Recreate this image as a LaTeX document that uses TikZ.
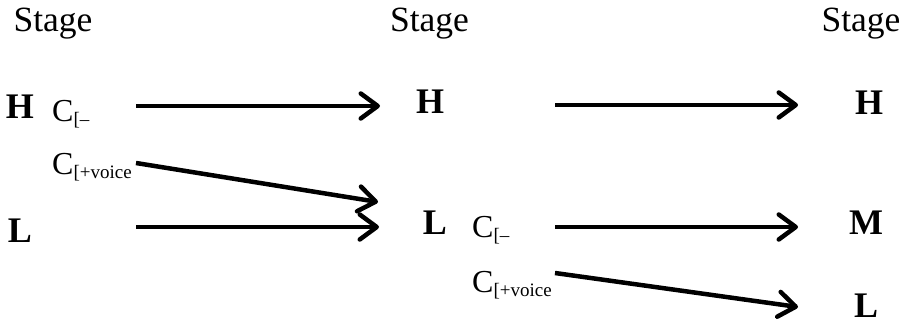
\documentclass[tikz,border=0pt]{standalone}
\usepackage{fontspec}
\setmainfont{Liberation Serif}
\usepackage{tikz}
\usetikzlibrary{calc}
\usetikzlibrary{arrows.meta}
\newcommand{\csub}[1]{C\raisebox{-4pt}{\fontsize{19}{21}\selectfont #1}}

\begin{document}
\begin{tikzpicture}[x=1pt, y=-1pt,
  stagelabel/.style={anchor=base, inner sep=0pt, font=\fontsize{35.5}{38}\selectfont},
  tone/.style={anchor=base, inner sep=0pt, font=\fontsize{36}{38}\selectfont\bfseries},
  cons/.style={anchor=base west, inner sep=0pt, font=\fontsize{32}{34}\selectfont},
  arr/.style={line width=4.5pt, -{Straight Barb[length=17pt, width=25pt, round]}}]
\useasboundingbox (0,0) rectangle (903,323);
\node[stagelabel] (s1) at (53,32) {Stage};
\node[stagelabel] (s2) at (429.5,32) {Stage};
\node[stagelabel] (s3) at (861,32) {Stage};
\node[tone] (h1) at (20,119) {H};
\node[tone] (l1) at (20,243) {L};
\node[tone] (h2) at (430,114) {H};
\node[tone] (l2) at (435,235) {L};
\node[tone] (h3) at (869,115) {H};
\node[tone] (m3) at (866,235) {M};
\node[tone] (l3) at (866,317) {L};
\node[cons] (c1) at (52,122) {\csub{[–}};
\node[cons] (c2) at (52,175) {\csub{[+voice}};
\node[cons] (c3) at (472,238) {\csub{[–}};
\node[cons] (c4) at (472,293) {\csub{[+voice}};
\draw[arr] ($(h1.base)+(116,-13)$) -- ($(h2.base)+(-50,-8)$);
\draw[arr] ($(c2.base west)+(84,-12)$) -- ($(l2.base)+(-57,-33)$);
\draw[arr] ($(l1.base)+(116,-16)$) -- ($(l2.base)+(-56,-8)$);
\draw[arr] ($(h2.base)+(125,-9)$) -- ($(h3.base)+(-71,-10)$);
\draw[arr] ($(c3.base west)+(83,-11)$) -- ($(m3.base)+(-68,-8)$);
\draw[arr] ($(c4.base west)+(83,-20)$) -- ($(l3.base)+(-68,-10)$);
\end{tikzpicture}
\end{document}
